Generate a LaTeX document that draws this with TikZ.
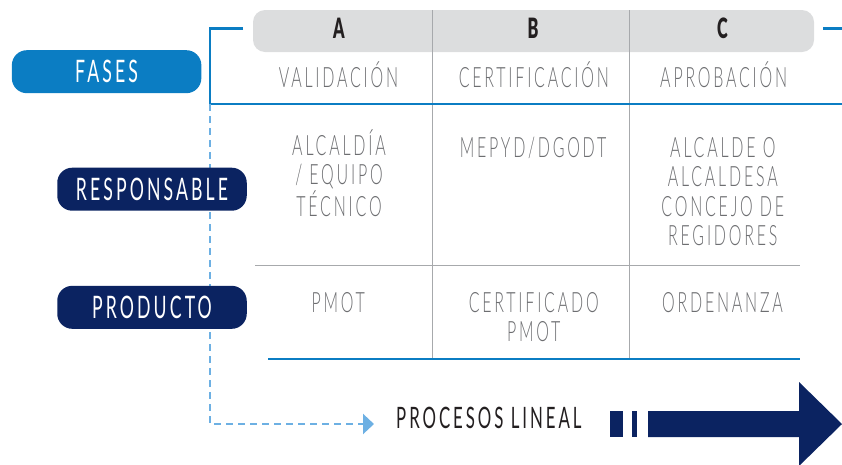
\documentclass[tikz,border=0pt]{standalone}
\usepackage{fontspec}
\usetikzlibrary{arrows.meta}
\setmainfont{Lato}
\newfontfamily\lightfam{Lato Light}[FakeStretch=0.57,LetterSpace=10]
\newfontfamily\regfam{Lato}[FakeStretch=0.57,LetterSpace=10]
\newfontfamily\boldfam{Lato Black}[FakeStretch=0.58]
\newcommand{\pillfont}{\regfam\fontsize{31}{31}\selectfont}
\newcommand{\hdrfont}{\boldfam\fontsize{28}{28}\selectfont}
\newcommand{\phasefont}{\lightfam\fontsize{28}{28}\selectfont}
\newcommand{\cellfont}{\lightfam\fontsize{28}{29.5}\selectfont}
\newcommand{\procfont}{\regfam\fontsize{29.5}{29.5}\selectfont}
\definecolor{hdrgrey}{HTML}{DCDDDE}
\definecolor{txtgrey}{HTML}{6D6E71}
\definecolor{linegrey}{HTML}{A7A9AC}
\definecolor{fblue}{HTML}{0B7DC3}
\definecolor{navy}{HTML}{0B2361}
\definecolor{dblue}{HTML}{6DB0E3}
\definecolor{ink}{HTML}{231F20}
\begin{document}
\begin{tikzpicture}[x=1pt,y=-1pt,
  pill/.style={fill=navy, rounded corners=15pt, minimum width=189.5pt, minimum height=43pt, inner sep=0pt, text=white, font=\pillfont},
  hdr/.style={font=\hdrfont, text=ink, anchor=base, inner sep=0pt},
  phase/.style={font=\phasefont, text=txtgrey, anchor=base, inner sep=0pt},
  cell/.style={font=\cellfont, text=txtgrey, align=center, anchor=base, inner sep=0pt},
  gridline/.style={draw=linegrey, line width=1pt},
  frameline/.style={draw=fblue, line width=2.5pt},
  flowline/.style={draw=dblue, line width=2.3pt, dash pattern=on 7pt off 5pt},
]
\useasboundingbox (0,0) rectangle (842,464);

% header bar
\node[fill=hdrgrey, rounded corners=12pt, minimum width=561pt, minimum height=42pt, inner sep=0pt] (hdrbar) at (533.5,31) {};

% grid
\draw[gridline] (432,10) -- (432,358);
\draw[gridline] (629,10) -- (629,358);
\draw[gridline] (255,265) -- (800,265);
\draw[draw=fblue, line width=2pt] (268,359) -- (800,359);

% frame
\coordinate (fcorner) at (210,104);
\draw[frameline] (243,28.5) -- (210,28.5) -- (fcorner) -- (842,104);
\draw[frameline] (823,28.5) -- (842,28.5);

% process text and dashed flow
\node[font=\procfont, text=ink, anchor=base west, inner sep=0pt] (proc) at (396,428) {PROCESOS LINEAL};
\coordinate (ftip) at (374,424);
\draw[flowline, -{Triangle[length=11pt,width=20pt]}] (fcorner) |- (ftip);

% pills
\node[pill, fill=fblue] (fases) at (106.6,71.7) {FASES};
\node[pill] (resp) at (152,189.2) {RESPONSABLE};
\node[pill] (prod) at (152,307.3) {PRODUCTO};

% header letters
\node[hdr] (ha) at (339,38.3) {A};
\node[hdr] (hb) at (533,38.3) {B};
\node[hdr] (hc) at (722.5,38.3) {C};

% phases
\node[phase] (pa) at (338.5,87) {VALIDACIÓN};
\node[phase] (pb) at (533.8,87) {CERTIFICACIÓN};
\node[phase] (pc) at (723.7,87) {APROBACIÓN};

% responsible row (anchor base = last line)
\node[cell] (ra) at (339,216) {ALCALDÍA\\/ EQUIPO\\TÉCNICO};
\node[cell] (rb) at (533,157) {MEPYD/DGODT};
\node[cell] (rc) at (722.8,245.5) {ALCALDE O\\ALCALDESA\\CONCEJO DE\\REGIDORES};

% product row
\node[cell] (qa) at (338.3,312) {PMOT};
\node[cell] (qb) at (533.7,341.5) {CERTIFICADO\\PMOT};
\node[cell] (qc) at (722.5,312) {ORDENANZA};

% big arrow
\fill[navy] (610,411) rectangle (623,437);
\fill[navy] (632,411) rectangle (637,437);
\fill[navy] (648,411) -- (799,411) -- (799,382) -- (842,424) -- (799,466) -- (799,437) -- (648,437) -- cycle;
\end{tikzpicture}
\end{document}
